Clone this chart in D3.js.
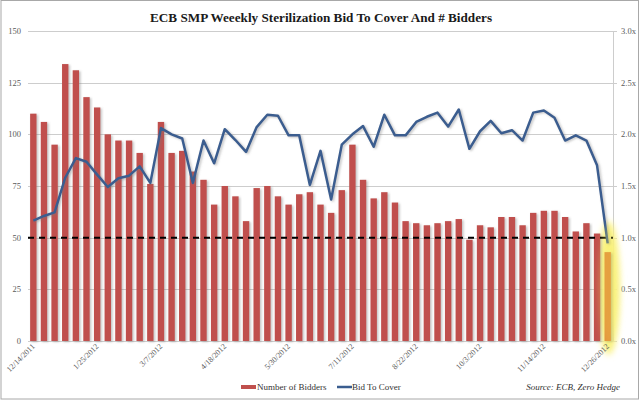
<!DOCTYPE html>
<html>
<head>
<meta charset="utf-8">
<script src="https://cdn.jsdelivr.net/npm/d3@7"></script>
<style>
  body { margin: 0; background: #fff; }
  svg { display: block; }
  text { font-family: "Liberation Serif", "DejaVu Serif", serif; }
</style>
</head>
<body>
<svg id="chart" width="640" height="401"></svg>
<script>
// weekly auctions, first one 12/14/2011
const startDate = new Date(2011, 11, 14);
const weekCount = 55;

const tickLabels = ['12/14/2011', '1/25/2012', '3/7/2012', '4/18/2012', '5/30/2012',
                    '7/11/2012', '8/22/2012', '10/3/2012', '11/14/2012', '12/26/2012'];

const bidders = [110, 106, 95, 134, 131, 118, 113, 100, 97, 97,
                 91, 76, 106, 91, 92, 82, 78, 66, 75, 70,
                 58, 74, 75, 70, 66, 71, 72, 66, 62, 73,
                 95, 78, 69, 72, 67, 58, 57, 56, 57, 58,
                 59, 49, 56, 55, 60, 60, 56, 62, 63, 63,
                 60, 53, 57, 52, 43];

const bidToCover = [1.165, 1.21, 1.245, 1.58, 1.77, 1.735, 1.61, 1.49, 1.575, 1.60,
                    1.69, 1.53, 2.06, 2.0, 1.96, 1.53, 1.94, 1.72, 2.05, 1.945,
                    1.83, 2.07, 2.19, 2.18, 1.99, 1.99, 1.51, 1.84, 1.37, 1.90,
                    2.00, 2.08, 1.88, 2.19, 1.99, 1.99, 2.12, 2.17, 2.21, 2.075,
                    2.24, 1.86, 2.03, 2.13, 2.01, 2.04, 1.94, 2.21, 2.23, 2.16,
                    1.94, 1.99, 1.94, 1.70, 0.945];

const leftTicks = [0, 25, 50, 75, 100, 125, 150];
const rightTicks = [0, 0.5, 1.0, 1.5, 2.0, 2.5, 3.0];
const parLevel = 1.0;

const fmt = d3.timeFormat('%-m/%-d/%Y');
const dates = d3.range(weekCount).map(i => fmt(d3.timeWeek.offset(startDate, i)));

const svg = d3.select('#chart');
const plotL = 28, plotR = 613, plotT = 31, plotB = 341;

const x = d3.scaleBand().domain(dates).range([plotL, plotR]).paddingInner(0.4).paddingOuter(0.2);
const yL = d3.scaleLinear().domain([0, 150]).range([plotB, plotT]);
const yR = d3.scaleLinear().domain([0, 3]).range([plotB, plotT]);

const defs = svg.append('defs');
defs.append('filter').attr('id', 'shadow')
    .attr('x', '-50%').attr('y', '-10%').attr('width', '200%').attr('height', '130%')
  .append('feDropShadow')
    .attr('dx', 1.5).attr('dy', 1).attr('stdDeviation', 0.8)
    .attr('flood-color', '#777').attr('flood-opacity', 0.45);
defs.append('filter').attr('id', 'glow')
    .attr('x', '-100%').attr('y', '-50%').attr('width', '300%').attr('height', '200%')
  .append('feGaussianBlur').attr('stdDeviation', 3);

// frame
svg.append('rect')
    .attr('x', 1).attr('y', 0.5).attr('width', 637.5).attr('height', 398.5)
    .attr('fill', 'none').attr('stroke', '#a8a8a8');

svg.append('text')
    .attr('x', 321).attr('y', 22)
    .attr('text-anchor', 'middle')
    .attr('font-size', 13.2).attr('font-weight', 'bold').attr('fill', '#1a1a1a')
    .text('ECB SMP Weeekly Sterilization Bid To Cover And # Bidders');

// gridlines
svg.append('g').selectAll('line').data(leftTicks).join('line')
    .attr('x1', plotL).attr('x2', plotR)
    .attr('y1', d => Math.round(yL(d)) + 0.5).attr('y2', d => Math.round(yL(d)) + 0.5)
    .attr('stroke', '#cdcdcd');

// left axis labels
svg.append('g').selectAll('text').data(leftTicks).join('text')
    .attr('x', 21).attr('y', d => yL(d) + 3)
    .attr('text-anchor', 'end').attr('font-size', 8.5).attr('fill', '#5a5a5a')
    .text(d => d);

// right axis
const rAxis = svg.append('g');
rAxis.append('line')
    .attr('x1', plotR + 0.5).attr('x2', plotR + 0.5).attr('y1', plotT).attr('y2', plotB)
    .attr('stroke', '#cdcdcd');
rAxis.selectAll('line.tk').data(rightTicks).join('line').attr('class', 'tk')
    .attr('x1', plotR).attr('x2', plotR + 4)
    .attr('y1', d => Math.round(yR(d)) + 0.5).attr('y2', d => Math.round(yR(d)) + 0.5)
    .attr('stroke', '#cdcdcd');
rAxis.selectAll('text').data(rightTicks).join('text')
    .attr('x', 621).attr('y', d => yR(d) + 3)
    .attr('font-size', 8.5).attr('fill', '#5a5a5a')
    .text(d => d.toFixed(1) + 'x');

// highlight glow behind last week
const lastDate = dates[dates.length - 1];
const gx = x(lastDate) + x.bandwidth() / 2 + 1;
svg.append('ellipse')
    .attr('cx', gx).attr('cy', 288).attr('rx', 11).attr('ry', 67)
    .attr('fill', '#fbf38a').attr('filter', 'url(#glow)');

// bars
svg.append('g').selectAll('rect').data(bidders).join('rect')
    .attr('x', (d, i) => x(dates[i]))
    .attr('width', x.bandwidth())
    .attr('y', d => yL(d))
    .attr('height', d => plotB - yL(d))
    .attr('fill', (d, i) => dates[i] === lastDate ? '#df7f34' : '#c0504d')
    .attr('filter', 'url(#shadow)');

// par line at 1.0x
svg.append('line')
    .attr('x1', plotL).attr('x2', plotR)
    .attr('y1', yR(parLevel)).attr('y2', yR(parLevel))
    .attr('stroke', '#000').attr('stroke-width', 2).attr('stroke-dasharray', '6,5');

// bid to cover
const line = d3.line()
    .x((d, i) => x(dates[i]) + x.bandwidth() / 2)
    .y(d => yR(d));
svg.append('path')
    .datum(bidToCover)
    .attr('d', line)
    .attr('fill', 'none').attr('stroke', '#3a5d8f').attr('stroke-width', 2.5)
    .attr('stroke-linejoin', 'round')
    .attr('filter', 'url(#shadow)');

// light yellow overlay on top
svg.append('ellipse')
    .attr('cx', gx).attr('cy', 288).attr('rx', 10).attr('ry', 62)
    .attr('fill', '#f5ee5a').attr('opacity', 0.3).attr('filter', 'url(#glow)');

// x labels
svg.append('g').selectAll('text').data(tickLabels).join('text')
    .attr('transform', d => `translate(${x(d) + x.bandwidth() / 2 + 2},${plotB + 6}) rotate(-45)`)
    .attr('text-anchor', 'end').attr('font-size', 8).attr('fill', '#5a5a5a')
    .text(d => d);

// legend
const lg = svg.append('g');
lg.append('rect').attr('x', 241).attr('y', 385).attr('width', 15).attr('height', 4).attr('fill', '#c0504d');
lg.append('text').attr('x', 257).attr('y', 390).attr('font-size', 9).attr('fill', '#333').text('Number of Bidders');
lg.append('line').attr('x1', 337).attr('x2', 352).attr('y1', 387).attr('y2', 387)
    .attr('stroke', '#3a5d8f').attr('stroke-width', 2.5);
lg.append('text').attr('x', 352).attr('y', 390).attr('font-size', 9).attr('fill', '#333').text('Bid To Cover');

svg.append('text')
    .attr('x', 620).attr('y', 390).attr('text-anchor', 'end')
    .attr('font-size', 9).attr('font-style', 'italic').attr('fill', '#333')
    .text('Source: ECB, Zero Hedge');
</script>
</body>
</html>
